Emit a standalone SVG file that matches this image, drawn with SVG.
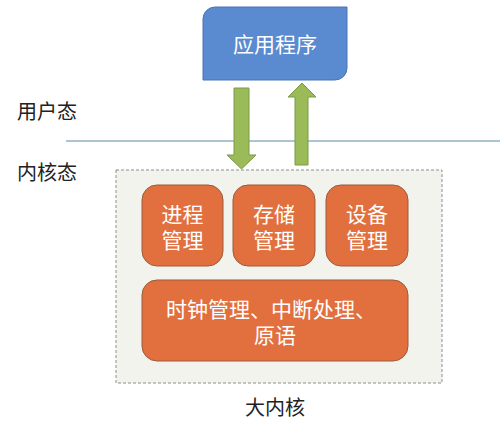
<svg xmlns="http://www.w3.org/2000/svg" width="500" height="426" viewBox="0 0 500 426">
<style>
text{font-family:"Noto Sans CJK SC","Liberation Sans",sans-serif}
.w{fill:#fff;font-size:21px;text-anchor:middle}
.k{fill:#222;font-size:20px}
.o{fill:#E2703E;stroke:#9a5a3c;stroke-width:1}
.ar{fill:#9BBB59;stroke:#7b9a48;stroke-width:1}
</style>
<rect width="500" height="426" fill="#fff"/>
<g id="labels">
<text class="k" x="17" y="119">用户态</text>
<text class="k" x="17" y="180">内核态</text>
</g>
<line x1="66" y1="141" x2="500" y2="141" stroke="#8fb0c8" stroke-width="1.5"/>
<g id="kernel">
<rect x="116" y="170" width="326" height="213" fill="#f2f3ec" stroke="#8a9090" stroke-width="1" stroke-dasharray="3,2"/>
<text x="275" y="415" font-size="20" fill="#222" text-anchor="middle">大内核</text>
</g>
<g id="app">
<path d="M215,7 H347 V68 A12,12 0 0 1 335,80 H203 V19 A12,12 0 0 1 215,7 Z" fill="#5A8ACF" stroke="#4a74b0" stroke-width="1"/>
<text class="w" x="275" y="52" font-size="23">应用程序</text>
</g>
<g id="connectors">
<path class="ar" d="M234,88 H249 V155 H256 L241.5,169 L227,155 H234 Z"/>
<path class="ar" d="M295,165 V97 H288 L302,83 L316,97 H308 V165 Z"/>
</g>
<g id="proc">
<rect class="o" x="142" y="185" width="81" height="81" rx="15"/>
<text class="w"><tspan x="182.5" y="222">进程</tspan><tspan x="182.5" y="248">管理</tspan></text>
</g>
<g id="mem">
<rect class="o" x="233" y="185" width="82" height="81" rx="15"/>
<text class="w"><tspan x="274" y="222">存储</tspan><tspan x="274" y="248">管理</tspan></text>
</g>
<g id="dev">
<rect class="o" x="326" y="185" width="82" height="81" rx="15"/>
<text class="w"><tspan x="367" y="222">设备</tspan><tspan x="367" y="248">管理</tspan></text>
</g>
<g id="misc">
<rect class="o" x="142" y="280" width="266" height="81" rx="15"/>
<text class="w" font-size="22"><tspan x="271" y="317">时钟管理、中断处理、</tspan><tspan x="275" y="343">原语</tspan></text>
</g>
</svg>
